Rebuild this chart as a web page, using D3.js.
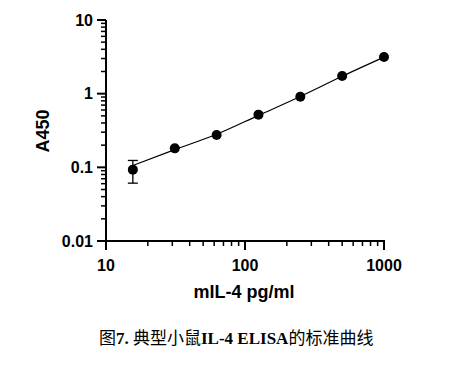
<!DOCTYPE html>
<html>
<head>
<meta charset="utf-8">
<script src="https://cdn.jsdelivr.net/npm/d3@7"></script>
<style>
  body { margin: 0; background: #fff; }
  text { font-family: "Liberation Sans", Arial, sans-serif; }
</style>
</head>
<body>
<script>
// standard points (pg/ml, A450)
const conc = [15.6, 31.25, 62.5, 125, 250, 500, 1000]
const a450 = [0.093, 0.181, 0.275, 0.519, 0.91, 1.74, 3.15]
const errLow = [0.061, null, null, null, null, null, null]
const errHigh = [0.124, null, null, null, null, null, null]

// fitted curve
const fitConc = [15.6, 31.25, 62.5, 125, 250, 500, 1000]
const fitA450 = [0.106, 0.174, 0.281, 0.507, 0.915, 1.72, 3.13]

const xTicks = [10, 100, 1000]
const yTicks = [0.01, 0.1, 1, 10]
const yTickLabels = ['0.01', '0.1', '1', '10']

const w = 462
const h = 370

const svg = d3.select('body')
    .append('svg')
    .attr('width', w)
    .attr('height', h)

// scales
const x = d3.scaleLog().domain([10, 1000]).range([106, 384])
const y = d3.scaleLog().domain([0.01, 10]).range([241, 20])

// minor ticks for each decade
function minorTicks(lo, hi) {
    const out = []
    for (let d = lo; d < hi; d *= 10) {
        for (let k = 2; k <= 9; k++) out.push(d * k)
    }
    return out
}

// y axis
const yAxis = svg.append('g')
yAxis.append('line')
    .attr('x1', 106).attr('x2', 106)
    .attr('y1', y(10)).attr('y2', y(0.01))
    .attr('stroke', 'black').attr('stroke-width', 2)
yAxis.selectAll('.ymin')
    .data(minorTicks(0.01, 10))
    .enter()
    .append('line')
    .attr('x1', 101).attr('x2', 106)
    .attr('y1', d => y(d)).attr('y2', d => y(d))
    .attr('stroke', 'black').attr('stroke-width', 1.5)
yAxis.selectAll('.ymaj')
    .data(yTicks)
    .enter()
    .append('line')
    .attr('x1', 97).attr('x2', 106)
    .attr('y1', d => y(d)).attr('y2', d => y(d))
    .attr('stroke', 'black').attr('stroke-width', 2)
yAxis.selectAll('.ylab')
    .data(yTicks)
    .enter()
    .append('text')
    .attr('x', 93)
    .attr('y', d => y(d))
    .attr('dy', '0.36em')
    .attr('text-anchor', 'end')
    .style('font-size', '16px')
    .style('font-weight', 'bold')
    .text((d, i) => yTickLabels[i])

// x axis
const xAxis = svg.append('g')
xAxis.append('line')
    .attr('x1', x(10) - 1).attr('x2', x(1000) + 1)
    .attr('y1', 241).attr('y2', 241)
    .attr('stroke', 'black').attr('stroke-width', 2)
xAxis.selectAll('.xmin')
    .data(minorTicks(10, 1000))
    .enter()
    .append('line')
    .attr('x1', d => x(d)).attr('x2', d => x(d))
    .attr('y1', 241).attr('y2', 246)
    .attr('stroke', 'black').attr('stroke-width', 1.5)
xAxis.selectAll('.xmaj')
    .data(xTicks)
    .enter()
    .append('line')
    .attr('x1', d => x(d)).attr('x2', d => x(d))
    .attr('y1', 241).attr('y2', 250)
    .attr('stroke', 'black').attr('stroke-width', 2)
xAxis.selectAll('.xlab')
    .data(xTicks)
    .enter()
    .append('text')
    .attr('x', d => x(d))
    .attr('y', 265)
    .attr('dy', '0.36em')
    .attr('text-anchor', 'middle')
    .style('font-size', '16px')
    .style('font-weight', 'bold')
    .text(d => d)

// axis titles
svg.append('text')
    .attr('x', 244)
    .attr('y', 292)
    .attr('dy', '0.36em')
    .attr('text-anchor', 'middle')
    .style('font-size', '18px')
    .style('font-weight', 'bold')
    .text('mIL-4 pg/ml')
svg.append('text')
    .attr('transform', 'translate(43,131) rotate(-90)')
    .attr('dy', '0.36em')
    .attr('text-anchor', 'middle')
    .style('font-size', '18px')
    .style('font-weight', 'bold')
    .text('A450')

// fitted curve
const line = d3.line()
    .x((d, i) => x(fitConc[i]))
    .y(d => y(d))
    .curve(d3.curveMonotoneX)
svg.append('path')
    .attr('d', line(fitA450))
    .attr('fill', 'none')
    .attr('stroke', 'black')
    .attr('stroke-width', 1.2)

// error bars
const eb = conc.map((c, i) => ({ c: c, lo: errLow[i], hi: errHigh[i] })).filter(d => d.lo !== null)
const ebg = svg.selectAll('.eb').data(eb).enter().append('g')
ebg.append('line')
    .attr('x1', d => x(d.c)).attr('x2', d => x(d.c))
    .attr('y1', d => y(d.lo)).attr('y2', d => y(d.hi))
    .attr('stroke', 'black').attr('stroke-width', 1.3)
ebg.append('line')
    .attr('x1', d => x(d.c) - 5).attr('x2', d => x(d.c) + 5)
    .attr('y1', d => y(d.lo)).attr('y2', d => y(d.lo))
    .attr('stroke', 'black').attr('stroke-width', 1.3)
ebg.append('line')
    .attr('x1', d => x(d.c) - 5).attr('x2', d => x(d.c) + 5)
    .attr('y1', d => y(d.hi)).attr('y2', d => y(d.hi))
    .attr('stroke', 'black').attr('stroke-width', 1.3)

// points
svg.selectAll('circle')
    .data(a450)
    .enter()
    .append('circle')
    .attr('cx', (d, i) => x(conc[i]))
    .attr('cy', d => y(d))
    .attr('r', 5)
    .style('fill', 'black')

// caption
const cap = svg.append('text')
    .attr('x', 99)
    .attr('y', 338)
    .attr('dy', '0.36em')
    .style('font-size', '17px')
cap.append('tspan').style('font-family', '"Noto Sans CJK SC"').text('图')
cap.append('tspan').style('font-family', '"Liberation Serif"').style('font-weight', 'bold').text('7. ')
cap.append('tspan').style('font-family', '"Noto Sans CJK SC"').text('典型小鼠')
cap.append('tspan').style('font-family', '"Liberation Serif"').style('font-weight', 'bold').text('IL-4 ELISA')
cap.append('tspan').style('font-family', '"Noto Sans CJK SC"').text('的标准曲线')
</script>
</body>
</html>
